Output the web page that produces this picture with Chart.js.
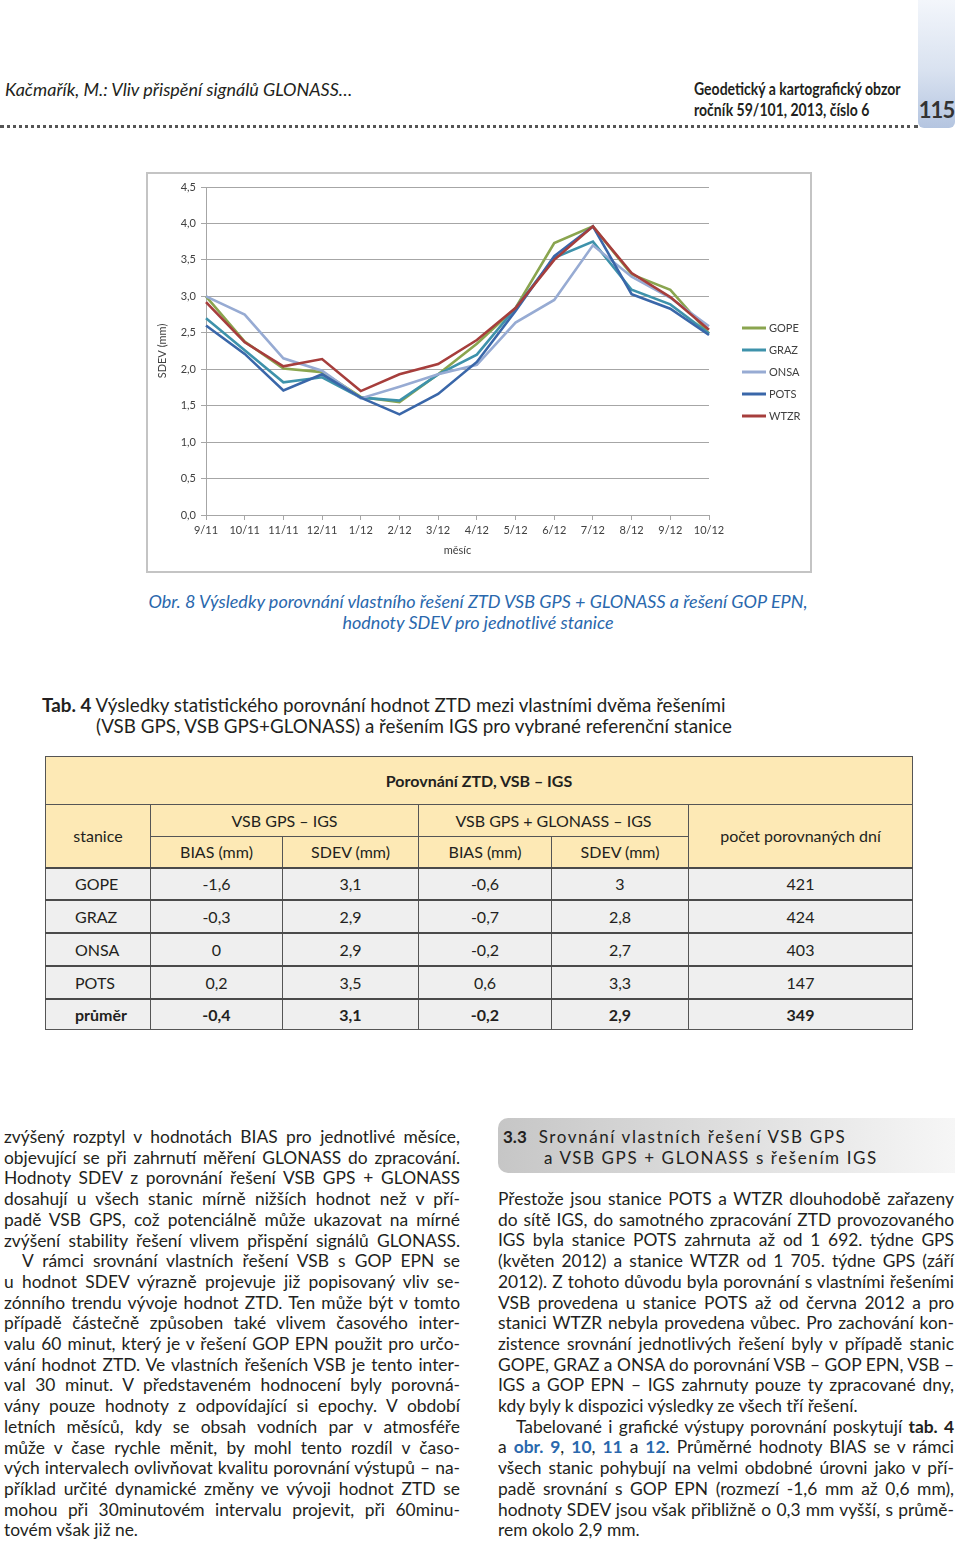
<!DOCTYPE html>
<html lang="cs">
<head>
<meta charset="utf-8">
<script src="https://cdn.jsdelivr.net/npm/chart.js@4/dist/chart.umd.min.js"></script>
<style>
  html, body { margin: 0; padding: 0; background: #fff; }
  body { width: 960px; height: 1545px; position: relative; overflow: hidden; font-family: Lato, "Open Sans", sans-serif; color: #231f20; }
  .abs { position: absolute; white-space: nowrap; }
  .narrow { display: inline-block; transform-origin: left center; }

  .tab115 { position: absolute; left: 918px; top: 0; width: 37px; height: 128px; border-radius: 0 0 6px 6px;
    background: linear-gradient(to bottom, #f3f6fb 0%, #d9e2f0 55%, #b4c5e0 100%); }
  .tab115 span { position: absolute; left: 0; width: 37px; top: 96px; text-align: center; font-weight: 700; font-size: 22px; color: #333; letter-spacing: -1px; }
  .dots { position: absolute; left: 0; top: 125px; width: 918px; border-bottom: 3px dotted #555; }

  .chart-box { position: absolute; left: 146px; top: 172px; width: 662px; height: 397px; border: 2px solid #c4c4c4; }
  .chart-box canvas { position: absolute; left: 0; top: 0; }

  .caption { position: absolute; left: 0; width: 956px; text-align: center; font-style: italic; font-size: 18px; color: #2a68ad; line-height: 21px; }

  .tabtitle { position: absolute; left: 42px; font-size: 18.8px; line-height: 21px; color: #231f20; white-space: nowrap; }

  table.tz { position: absolute; left: 45px; top: 756px; width: 867px; border-collapse: collapse; table-layout: fixed; font-size: 16px; }
  table.tz td { border: 1px solid #555; text-align: center; padding: 0; color: #231f20; }
  table.tz tr.h td { background: #fde9b5; }
  table.tz tr.d td { background: #efefef; border-top: 2px solid #4a4a4a; }
  table.tz td.name { text-align: left; padding-left: 29px; }
  table.tz tr.avg td { font-weight: 700; }

  .col { position: absolute; width: 456px; font-size: 17.4px; line-height: 20.7px; color: #231f20; }
  .col div { text-align: justify; text-align-last: justify; }
  .col div.last { text-align-last: left; }
  .col div.ind { text-indent: 18px; }
  .blue { color: #2a68ad; font-weight: 700; }

  .head33 { position: absolute; left: 498px; top: 1118px; width: 457px; height: 55px; border-radius: 10px 0 0 10px;
    background: linear-gradient(to right, #c6c6c6 0%, #dcdcdc 45%, #f6f6f6 100%); }
  .head33 .l1, .head33 .l2 { position: absolute; font-size: 17px; letter-spacing: 1.6px; white-space: nowrap; color: #231f20; }
</style>
</head>
<body>

<div class="abs" style="left:5px; top:78px; font-size:18px; font-style:italic;"><span class="narrow" style="transform:scaleX(1.0);">Kačmařík, M.: Vliv přispění signálů GLONASS…</span></div>
<div class="abs" style="left:694px; top:79px; font-size:16.5px; font-weight:700;"><span class="narrow" style="transform:scaleX(0.85);">Geodetický a kartografický obzor</span></div>
<div class="abs" style="left:694px; top:100px; font-size:16.5px; font-weight:700;"><span class="narrow" style="transform:scaleX(0.85);">ročník 59/101, 2013, číslo 6</span></div>
<div class="tab115"><span>115</span></div>
<div class="dots"></div>

<div class="chart-box"><canvas id="sdevChart" width="662" height="397"></canvas></div>

<div class="caption" style="top:591px;">Obr. 8 Výsledky porovnání vlastního řešení ZTD VSB GPS + GLONASS a řešení GOP EPN,</div>
<div class="caption" style="top:612px;">hodnoty SDEV pro jednotlivé stanice</div>

<div class="tabtitle" style="top:694px;"><b>Tab. 4</b> Výsledky statistického porovnání hodnot ZTD mezi vlastními dvěma řešeními</div>
<div class="tabtitle" style="top:715px; left:96px;">(VSB GPS, VSB GPS+GLONASS) a řešením IGS pro vybrané referenční stanice</div>

<table class="tz" id="ztdTable">
  <colgroup><col style="width:105px"><col style="width:132px"><col style="width:136px"><col style="width:133px"><col style="width:137px"><col style="width:224px"></colgroup>
  <tr class="h" style="height:48px"><td colspan="6" style="font-weight:700;">Porovnání ZTD, VSB – IGS</td></tr>
  <tr class="h" style="height:32px"><td rowspan="2">stanice</td><td colspan="2">VSB GPS – IGS</td><td colspan="2">VSB GPS + GLONASS – IGS</td><td rowspan="2">počet porovnaných dní</td></tr>
  <tr class="h" style="height:31px"><td>BIAS (mm)</td><td>SDEV (mm)</td><td>BIAS (mm)</td><td>SDEV (mm)</td></tr>
</table>

<div class="col" style="left:4px; top:1127px;">
  <div>zvýšený rozptyl v hodnotách BIAS pro jednotlivé měsíce,</div>
  <div>objevující se při zahrnutí měření GLONASS do zpracování.</div>
  <div>Hodnoty SDEV z porovnání řešení VSB GPS + GLONASS</div>
  <div>dosahují u všech stanic mírně nižších hodnot než v pří-</div>
  <div>padě VSB GPS, což potenciálně může ukazovat na mírné</div>
  <div>zvýšení stability řešení vlivem přispění signálů GLONASS.</div>
  <div class="ind">V rámci srovnání vlastních řešení VSB s GOP EPN se</div>
  <div>u hodnot SDEV výrazně projevuje již popisovaný vliv se-</div>
  <div>zónního trendu vývoje hodnot ZTD. Ten může být v tomto</div>
  <div>případě částečně způsoben také vlivem časového inter-</div>
  <div>valu 60 minut, který je v řešení GOP EPN použit pro určo-</div>
  <div>vání hodnot ZTD. Ve vlastních řešeních VSB je tento inter-</div>
  <div>val 30 minut. V představeném hodnocení byly porovná-</div>
  <div>vány pouze hodnoty z odpovídající si epochy. V období</div>
  <div>letních měsíců, kdy se obsah vodních par v atmosféře</div>
  <div>může v čase rychle měnit, by mohl tento rozdíl v časo-</div>
  <div>vých intervalech ovlivňovat kvalitu porovnání výstupů – na-</div>
  <div>příklad určité dynamické změny ve vývoji hodnot ZTD se</div>
  <div>mohou při 30minutovém intervalu projevit, při 60minu-</div>
  <div class="last">tovém však již ne.</div>
</div>

<div class="head33">
  <div class="l1" style="left:5px; top:8px;"><b style="letter-spacing:0;">3.3</b>&nbsp; Srovnání vlastních řešení VSB GPS</div>
  <div class="l2" style="left:46px; top:29px;">a VSB GPS + GLONASS s řešením IGS</div>
</div>

<div class="col" style="left:498px; top:1189px;">
  <div>Přestože jsou stanice POTS a WTZR dlouhodobě zařazeny</div>
  <div>do sítě IGS, do samotného zpracování ZTD provozovaného</div>
  <div>IGS byla stanice POTS zahrnuta až od 1 692. týdne GPS</div>
  <div>(květen 2012) a stanice WTZR od 1 705. týdne GPS (září</div>
  <div>2012). Z tohoto důvodu byla porovnání s vlastními řešeními</div>
  <div>VSB provedena u stanice POTS až od června 2012 a pro</div>
  <div>stanici WTZR nebyla provedena vůbec. Pro zachování kon-</div>
  <div>zistence srovnání jednotlivých řešení byly v případě stanic</div>
  <div>GOPE, GRAZ a ONSA do porovnání VSB – GOP EPN, VSB –</div>
  <div>IGS a GOP EPN – IGS zahrnuty pouze ty zpracované dny,</div>
  <div class="last">kdy byly k dispozici výsledky ze všech tří řešení.</div>
  <div class="ind">Tabelované i grafické výstupy porovnání poskytují <b>tab. 4</b></div>
  <div>a <span class="blue">obr. 9</span>, <span class="blue">10</span>, <span class="blue">11</span> a <span class="blue">12</span>. Průměrné hodnoty BIAS se v rámci</div>
  <div>všech stanic pohybují na velmi obdobné úrovni jako v pří-</div>
  <div>padě srovnání s GOP EPN (rozmezí -1,6 mm až 0,6 mm),</div>
  <div>hodnoty SDEV jsou však přibližně o 0,3 mm vyšší, s průmě-</div>
  <div class="last">rem okolo 2,9 mm.</div>
</div>

<script>
// CHART DATA (SDEV, mm)
const months = ['9/11', '10/11', '11/11', '12/11', '1/12', '2/12', '3/12', '4/12', '5/12', '6/12', '7/12', '8/12', '9/12', '10/12'];
const gope = [3.00, 2.38, 2.01, 1.96, 1.62, 1.55, 1.93, 2.35, 2.84, 3.73, 3.96, 3.30, 3.09, 2.49];
const graz = [2.70, 2.26, 1.82, 1.89, 1.61, 1.57, 1.93, 2.20, 2.84, 3.53, 3.75, 3.09, 2.89, 2.49];
const onsa = [3.00, 2.75, 2.15, 1.98, 1.60, 1.76, 1.93, 2.06, 2.64, 2.95, 3.70, 3.27, 2.98, 2.59];
const pots = [2.60, 2.21, 1.71, 1.93, 1.61, 1.38, 1.66, 2.10, 2.80, 3.55, 3.96, 3.03, 2.83, 2.47];
const wtzr = [2.92, 2.37, 2.04, 2.14, 1.70, 1.93, 2.07, 2.40, 2.84, 3.50, 3.96, 3.32, 2.99, 2.54];

// TABLE DATA
const stations = ['GOPE', 'GRAZ', 'ONSA', 'POTS', 'průměr'];
const biasGps = ['-1,6', '-0,3', '0', '0,2', '-0,4'];
const sdevGps = ['3,1', '2,9', '2,9', '3,5', '3,1'];
const biasGlo = ['-0,6', '-0,7', '-0,2', '0,6', '-0,2'];
const sdevGlo = ['3', '2,8', '2,7', '3,3', '2,9'];
const dayCount = ['421', '424', '403', '147', '349'];
const rowHeights = [32, 33, 33, 33, 31];

document.addEventListener('DOMContentLoaded', () => {
    buildTable();
    createChart();
});

function buildTable() {
    const table = document.getElementById('ztdTable');
    stations.forEach((name, i) => {
        const tr = document.createElement('tr');
        tr.className = i === stations.length - 1 ? 'd avg' : 'd';
        tr.style.height = rowHeights[i] + 'px';
        tr.innerHTML = `
            <td class="name">${name}</td>
            <td>${biasGps[i]}</td>
            <td>${sdevGps[i]}</td>
            <td>${biasGlo[i]}</td>
            <td>${sdevGlo[i]}</td>
            <td>${dayCount[i]}</td>`;
        table.appendChild(tr);
    });
}

// legend drawn to the right of the plot, like the Excel original
const sideLegend = {
    id: 'sideLegend',
    afterDraw(chart) {
        const ctx = chart.ctx;
        const x0 = chart.chartArea.right + 33;
        ctx.save();
        ctx.font = '11px Lato';
        ctx.textBaseline = 'middle';
        chart.data.datasets.forEach((ds, i) => {
            const y = 154 + i * 22;
            ctx.strokeStyle = ds.borderColor;
            ctx.lineWidth = 3;
            ctx.beginPath();
            ctx.moveTo(x0, y);
            ctx.lineTo(x0 + 24, y);
            ctx.stroke();
            ctx.fillStyle = '#404040';
            ctx.fillText(ds.label, x0 + 27, y);
        });
        ctx.restore();
    }
};

function createChart() {
    const ctx = document.getElementById('sdevChart');
    Chart.defaults.font.family = 'Lato';
    Chart.defaults.font.size = 11;
    Chart.defaults.color = '#404040';

    const line = (label, data, color, order) => ({
        label: label,
        data: data,
        borderColor: color,
        backgroundColor: color,
        borderWidth: 2.6,
        pointRadius: 0,
        tension: 0,
        order: order
    });

    new Chart(ctx, {
        type: 'line',
        data: {
            labels: months,
            datasets: [
                line('GOPE', gope, '#8aa54f', 5),
                line('GRAZ', graz, '#3e92ab', 4),
                line('ONSA', onsa, '#97abd3', 3),
                line('POTS', pots, '#3a67a9', 2),
                line('WTZR', wtzr, '#a63e3c', 1)
            ]
        },
        options: {
            responsive: false,
            animation: false,
            layout: {
                padding: { top: 13, right: 101, bottom: 0, left: 0 }
            },
            plugins: {
                legend: { display: false },
                tooltip: { enabled: false }
            },
            scales: {
                x: {
                    offset: false,
                    afterFit: (scale) => { scale.height = 56; },
                    grid: {
                        drawOnChartArea: false,
                        drawTicks: true,
                        tickLength: 5,
                        color: '#a6a6a6'
                    },
                    border: { color: '#a6a6a6' },
                    ticks: { padding: 4, maxRotation: 0, autoSkip: false },
                    title: {
                        display: true,
                        text: 'měsíc',
                        padding: { top: 0, bottom: 14 }
                    }
                },
                y: {
                    min: 0,
                    max: 4.5,
                    afterFit: (scale) => { scale.width = 58; },
                    grid: {
                        color: '#a6a6a6',
                        tickLength: 5
                    },
                    border: { color: '#a6a6a6' },
                    ticks: {
                        stepSize: 0.5,
                        padding: 5,
                        callback: (v) => v.toFixed(1).replace('.', ',')
                    },
                    title: {
                        display: true,
                        text: 'SDEV (mm)',
                        padding: { top: 8, bottom: 0 }
                    }
                }
            }
        },
        plugins: [sideLegend]
    });
}
</script>
</body>
</html>
